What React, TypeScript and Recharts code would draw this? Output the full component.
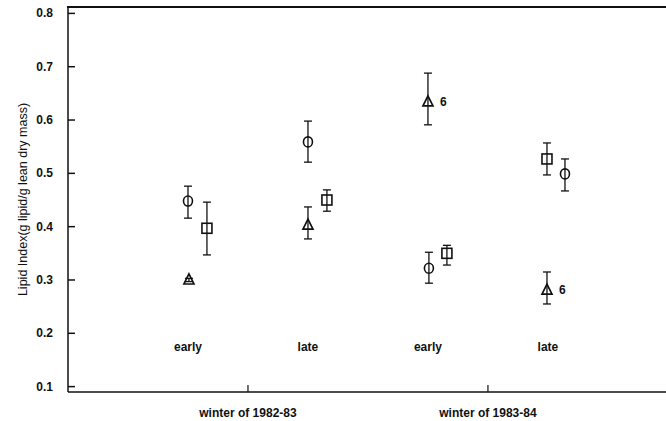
import React from "react";
import { ScatterChart, Scatter, XAxis, YAxis, ErrorBar } from "recharts";

// ---- data ----
const winterTicks = [1, 2];
const winterLabels = ["winter of 1982-83", "winter of 1983-84"];
const yTicks = [0.1, 0.2, 0.3, 0.4, 0.5, 0.6, 0.7, 0.8];

const periodX = [0.75, 1.25, 1.75, 2.25];
const periodLabels = ["early", "late", "early", "late"];
const periodLabelY = 0.174;

const circleX = [0.75, 1.25, 1.754, 2.321];
const circleMean = [0.448, 0.559, 0.322, 0.499];
const circleLow = [0.416, 0.521, 0.294, 0.467];
const circleHigh = [0.476, 0.598, 0.352, 0.527];

const squareX = [0.829, 1.329, 1.829, 2.246];
const squareMean = [0.397, 0.45, 0.35, 0.527];
const squareLow = [0.347, 0.429, 0.328, 0.497];
const squareHigh = [0.446, 0.469, 0.365, 0.557];

const triangleX = [0.754, 1.25, 1.75, 2.246];
const triangleMean = [0.3, 0.403, 0.634, 0.281];
const triangleLow = [0.297, 0.377, 0.591, 0.255];
const triangleHigh = [0.303, 0.437, 0.688, 0.315];
const triangleN = ["", "", "6", "6"];

const X_DOMAIN: [number, number] = [0.25, 2.742];
const Y_DOMAIN: [number, number] = [0.0899, 0.812];

const CHART_W = 666;
const CHART_H = 421;
const MARGIN_TOP = 7;
const Y_AXIS_W = 68;

const FONT = "'Liberation Sans', Arial, Helvetica, sans-serif";
const INK = "#111";

const build = (xs: number[], mean: number[], lo: number[], hi: number[], extra?: string[]) =>
  xs.map((x, i) => ({
    x,
    y: mean[i],
    err: [mean[i] - lo[i], hi[i] - mean[i]],
    n: extra ? extra[i] : "",
  }));

const circleData = build(circleX, circleMean, circleLow, circleHigh);
const squareData = build(squareX, squareMean, squareLow, squareHigh);
const triangleData = build(triangleX, triangleMean, triangleLow, triangleHigh, triangleN);
const periodData = periodX.map((x, i) => ({ x, y: periodLabelY, label: periodLabels[i] }));

const CircleShape = (p: any) => (
  <ellipse cx={p.cx} cy={p.cy} rx={4.5} ry={5} fill="none" stroke={INK} strokeWidth={1.6} />
);
const SquareShape = (p: any) => (
  <rect x={p.cx - 5} y={p.cy - 5} width={10} height={10} fill="none" stroke={INK} strokeWidth={1.6} />
);
const TriangleShape = (p: any) => (
  <g>
    <polygon
      points={`${p.cx},${p.cy - 6} ${p.cx - 5},${p.cy + 4} ${p.cx + 5},${p.cy + 4}`}
      fill="none"
      stroke={INK}
      strokeWidth={1.7}
    />
    {p.payload && p.payload.n ? (
      <text x={p.cx + 12} y={p.cy} dy={4} fontSize={12} fontWeight="bold" fontFamily={FONT} fill={INK}>
        {p.payload.n}
      </text>
    ) : null}
  </g>
);
const PeriodShape = (p: any) => (
  <text x={p.cx} y={p.cy} dy={4} textAnchor="middle" fontSize={12} fontWeight="bold" fontFamily={FONT} fill={INK}>
    {p.payload ? p.payload.label : ""}
  </text>
);

const YTick = (p: any) => (
  <g>
    <line x1={p.x} x2={p.x + 7} y1={p.y} y2={p.y} stroke={INK} strokeWidth={1.5} />
    <text x={p.x - 15} y={p.y} dy={4} textAnchor="end" fontSize={12} fontWeight="bold" fontFamily={FONT} fill={INK}>
      {Number(p.payload.value).toFixed(1)}
    </text>
  </g>
);

const XTick = (p: any) => {
  const idx = winterTicks.indexOf(p.payload.value);
  return (
    <g>
      <line x1={p.x} x2={p.x} y1={p.y} y2={p.y - 7} stroke={INK} strokeWidth={1.2} />
      <text x={p.x} y={p.y + 21} dy={4} textAnchor="middle" fontSize={12} fontWeight="bold" fontFamily={FONT} fill={INK}>
        {idx >= 0 ? winterLabels[idx] : ""}
      </text>
    </g>
  );
};

// y-axis title, plus the plot's top frame line drawn from the axis box
const YLabel = (p: any) => {
  const vb = p.viewBox || { x: 0, y: MARGIN_TOP, width: Y_AXIS_W, height: 385 };
  const cx = vb.x + 23;
  const cy = vb.y + vb.height / 2;
  const axisX = vb.x + vb.width;
  return (
    <g>
      <line x1={axisX - 0.75} x2={CHART_W} y1={vb.y} y2={vb.y} stroke={INK} strokeWidth={1.5} />
      <text
        transform={`translate(${cx},${cy}) rotate(-90)`}
        textAnchor="middle"
        dy={4}
        fontSize={12.5}
        fontFamily={FONT}
        fill={INK}
      >
        Lipid Index(g lipid/g lean dry mass)
      </text>
    </g>
  );
};

export default function App() {
  return (
    <div style={{ position: "absolute", left: 0, top: 0, width: CHART_W, height: CHART_H, background: "#fff" }}>
      <ScatterChart width={CHART_W} height={CHART_H} margin={{ top: MARGIN_TOP, right: 0, bottom: 0, left: 0 }}>
        <XAxis
          type="number"
          dataKey="x"
          domain={X_DOMAIN}
          ticks={winterTicks}
          height={29}
          tickSize={0}
          tickMargin={0}
          tickLine={false}
          tick={<XTick />}
          axisLine={{ stroke: INK, strokeWidth: 1.5 }}
          allowDataOverflow
        />
        <YAxis
          type="number"
          dataKey="y"
          domain={Y_DOMAIN}
          ticks={yTicks}
          width={Y_AXIS_W}
          tickSize={0}
          tickMargin={0}
          tickLine={false}
          tick={<YTick />}
          axisLine={{ stroke: INK, strokeWidth: 1.5 }}
          allowDataOverflow
          label={{ content: <YLabel /> }}
        />
        <Scatter data={periodData} shape={<PeriodShape />} isAnimationActive={false} />
        <Scatter data={circleData} shape={<CircleShape />} isAnimationActive={false}>
          <ErrorBar dataKey="err" direction="y" width={4} stroke={INK} strokeWidth={1.3} isAnimationActive={false} />
        </Scatter>
        <Scatter data={squareData} shape={<SquareShape />} isAnimationActive={false}>
          <ErrorBar dataKey="err" direction="y" width={4} stroke={INK} strokeWidth={1.3} isAnimationActive={false} />
        </Scatter>
        <Scatter data={triangleData} shape={<TriangleShape />} isAnimationActive={false}>
          <ErrorBar dataKey="err" direction="y" width={4} stroke={INK} strokeWidth={1.3} isAnimationActive={false} />
        </Scatter>
      </ScatterChart>
      {/* top frame of the plot box */}
      <div
        style={{
          position: "absolute",
          left: Y_AXIS_W - 1,
          top: MARGIN_TOP - 1,
          width: CHART_W - Y_AXIS_W + 1,
          height: 2,
          background: INK,
          pointerEvents: "none",
        }}
      />
    </div>
  );
}
